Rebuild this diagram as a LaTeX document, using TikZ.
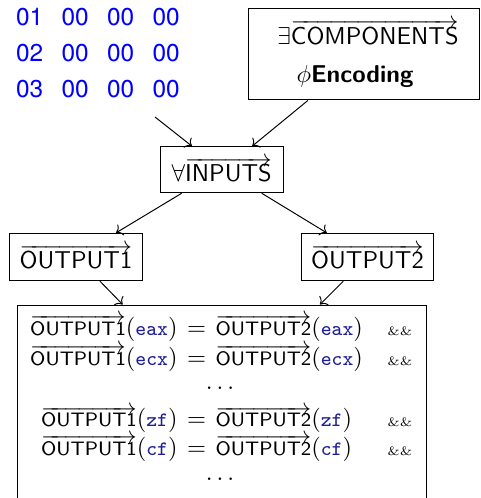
\documentclass[tikz,border=0pt]{standalone}
\usepackage{fontspec}
\newfontfamily\hexfont{TeX Gyre Heros}
\usetikzlibrary{arrows.meta}
\definecolor{hexblue}{RGB}{0,0,255}
\definecolor{regblue}{RGB}{30,30,150}
\newcommand\regname[1]{\mbox{\fontsize{8.4}{10}\selectfont\ttfamily\color{regblue}#1}}
\newcommand\outname[1]{\overrightarrow{\mbox{\fontsize{8}{10}\selectfont\sffamily #1}}}
\newcommand\eqline[1]{%
  \makebox[60.3pt][r]{$\outname{OUTPUT1}(\regname{#1})$}%
  \makebox[15.6pt]{$=$}%
  \makebox[70.4pt][l]{$\outname{OUTPUT2}(\regname{#1})$}%
  {\fontsize{5}{6}\selectfont\&\&}}
\newcommand\hexrow[1]{#1\hspace{7.53pt}00\hspace{7.53pt}00\hspace{7.53pt}00}
\begin{document}
\begin{tikzpicture}[x=0.41pt,y=-0.41pt,
  box/.style={draw, line width=0.4pt, inner sep=0pt},
  arr/.style={->, line width=0.4pt},
  hexrowstyle/.style={anchor=base west, inner sep=0pt, text=hexblue, font=\hexfont\fontsize{10}{12}\selectfont},
  eqrow/.style={anchor=base west, inner sep=0pt, font=\fontsize{10}{12}\selectfont},
  dotrow/.style={anchor=base, inner sep=0pt}]
\useasboundingbox (0,0) rectangle (481,498);

% hex rows
\node[hexrowstyle] (hex1) at (15.7,25) {\hexrow{01}};
\node[hexrowstyle] (hex2) at (15.7,61.3) {\hexrow{02}};
\node[hexrowstyle] (hex3) at (15.7,97.3) {\hexrow{03}};
\coordinate (hexend) at (155,117);

% components box
\node[box, minimum width=94.7pt, minimum height=37.7pt] (comp) at (363.5,54) {};
\node[anchor=base, inner sep=0pt] (compA) at (368,44) {$\exists\overrightarrow{\textsf{COMPONENTS}}$};
\node[anchor=base, inner sep=0pt] (compB) at (355,82) {$\phi$\textsf{\bfseries Encoding}};

% inputs
\node[box, minimum width=50.6pt, minimum height=18.9pt] (inputs) at (221.7,169.7) {$\forall\overrightarrow{\textsf{INPUTS}}$};

% outputs
\node[box, minimum width=54.7pt, minimum height=19.4pt] (out1) at (76,257) {$\overrightarrow{\textsf{OUTPUT1}}$};
\node[box, minimum width=54.5pt, minimum height=19.4pt] (out2) at (367.5,257) {$\overrightarrow{\textsf{OUTPUT2}}$};

% equations box
\node[box, minimum width=167.6pt, minimum height=82pt] (eqs) at (221.7,405) {};
\node[eqrow] (r1) at (30,335) {\eqline{eax}};
\node[eqrow] (r2) at (30,365) {\eqline{ecx}};
\node[dotrow] (d1) at (220,389) {$\dots$};
\node[eqrow] (r3) at (30,426.7) {\eqline{zf}};
\node[eqrow] (r4) at (30,455) {\eqline{cf}};
\node[dotrow] (d2) at (220,480) {$\dots$};

% connectors
\draw[arr] (hexend) -- ([xshift=-12.2pt]inputs.north);
\draw[arr] ([xshift=-22.8pt]comp.south) -- ([xshift=12.5pt]inputs.north);
\draw[arr] ([xshift=-16.4pt]inputs.south) -- ([xshift=16.4pt]out1.north);
\draw[arr] ([xshift=16.4pt]inputs.south) -- ([xshift=-16.7pt]out2.north);
\draw[arr] ([xshift=9.8pt]out1.south) -- ([xshift=-40.6pt]eqs.north);
\draw[arr] ([xshift=-9.9pt]out2.south) -- ([xshift=40.3pt]eqs.north);
\end{tikzpicture}
\end{document}
